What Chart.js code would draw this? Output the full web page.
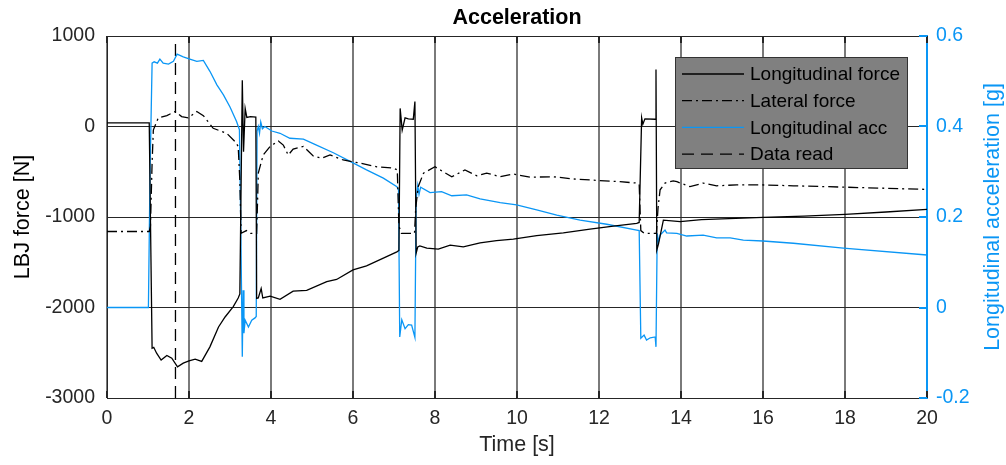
<!DOCTYPE html>
<html>
<head>
<meta charset="utf-8">
<title>Acceleration</title>
<script src="https://cdn.jsdelivr.net/npm/chart.js@4.4.1/dist/chart.umd.min.js"></script>
<style>
  html, body { margin: 0; padding: 0; background: #fff; }
  #wrap { width: 1006px; height: 465px; }
</style>
</head>
<body>
<div id="wrap"><canvas id="myChart" width="1006" height="465"></canvas></div>
<script>
// values

// tick labels
const timeTicks = [0, 2, 4, 6, 8, 10, 12, 14, 16, 18, 20];
const forceTicks = [-3000, -2000, -1000, 0, 1000];
const accTicks = [-0.2, 0, 0.2, 0.4, 0.6];

// Longitudinal force [N]
const longForceTime = [0, 0.98, 1.03, 1.10, 1.14, 1.21, 1.32, 1.46, 1.58, 1.72, 1.86, 2.00, 2.15, 2.31, 2.51, 2.72, 2.88, 3.08, 3.20, 3.24,
  3.30, 3.33, 3.37, 3.41, 3.50, 3.63, 3.65, 3.69, 3.76, 3.80, 3.98, 4.22, 4.54, 4.87, 5.36, 5.60, 6.00, 6.33, 6.74, 7.07, 7.12,
  7.15, 7.20, 7.27, 7.35, 7.47, 7.51, 7.54, 7.58, 7.63, 7.80, 8.08, 8.37, 8.69, 9.10, 9.50, 9.91, 10.48, 11.13, 11.78, 12.35, 12.92, 12.98,
  13.04, 13.07, 13.12, 13.37, 13.39, 13.41, 13.45, 13.57, 13.98, 14.5, 15.0, 16.0, 17.0, 18.0, 19.0, 20.0];
const longForce = [40, 40, 40, -2450, -2440, -2505, -2580, -2530, -2560, -2655, -2615, -2590, -2570, -2595, -2435, -2215, -2105, -1990, -1895, -1850,
  510, -280, 200, 100, 110, 105, -1900, -1895, -1790, -1895, -1875, -1910, -1820, -1810, -1715, -1690, -1585, -1540, -1455, -1385, -1370,
  200, -40, 95, 85, 80, 275, -1400, -1330, -1320, -1345, -1355, -1310, -1330, -1285, -1260, -1245, -1205, -1175, -1135, -1100, -1070, -1060,
  95, 25, 85, 80, 630, -1365, -1300, -1035, -1050, -1030, -1020, -1005, -990, -970, -945, -915];

// Lateral force [N]
const latForceTime = [0, 1.00, 1.03, 1.06, 1.10, 1.13, 1.25, 1.46, 1.66, 1.82, 1.98, 2.19, 2.35, 2.59, 2.92, 3.12, 3.20, 3.24, 3.27, 3.40, 3.50, 3.65,
  3.68, 3.69, 3.81, 3.98, 4.18, 4.30, 4.42, 4.54, 4.79, 5.03, 5.24, 5.44, 5.76, 6.17, 6.58, 6.98, 7.08, 7.12, 7.18, 7.50,
  7.53, 7.59, 7.72, 8.00, 8.20, 8.41, 8.73, 9.02, 9.26, 9.59, 9.91, 10.32, 10.89, 11.37, 11.94, 12.51, 12.92, 12.98, 13.02, 13.10, 13.40,
  13.44, 13.49, 13.61, 13.81, 13.90, 14.22, 14.54, 14.87, 15.36, 15.93, 16.74, 17.96, 20.0];
const latForce = [-1160, -1160, -1160, -1100, -400, -40, 95, 120, 165, 110, 95, 165, 120, -20, -75, -165, -220, -600, -1180, -1150, -1180, -1180,
  -700, -515, -315, -220, -160, -205, -315, -250, -220, -325, -350, -315, -370, -405, -445, -460, -480, -1100, -1180, -1180,
  -900, -665, -515, -445, -500, -555, -480, -545, -515, -555, -525, -560, -555, -580, -595, -610, -625, -640, -1150, -1180, -1180,
  -900, -700, -625, -600, -610, -665, -625, -655, -645, -645, -655, -670, -695];

// Longitudinal acceleration [g]
const accTime = [0, 1.01, 1.05, 1.10, 1.15, 1.23, 1.29, 1.37, 1.50, 1.62, 1.71, 1.86, 2.02, 2.19, 2.35, 2.51, 2.68, 2.84, 3.00, 3.16, 3.23, 3.26,
  3.30, 3.32, 3.34, 3.37, 3.45, 3.53, 3.61, 3.64, 3.66, 3.69, 3.72, 3.75, 3.79, 3.85, 4.02, 4.22, 4.46, 4.79, 5.11, 5.52, 5.93, 6.33, 6.74, 7.07, 7.11,
  7.14, 7.19, 7.27, 7.35, 7.43, 7.51, 7.54, 7.58, 7.61, 7.65, 7.88, 8.16, 8.41, 8.77, 9.10, 9.59, 9.99, 10.48, 10.97, 11.54, 12.19, 12.92, 12.98,
  13.02, 13.10, 13.16, 13.25, 13.37, 13.39, 13.42, 13.45, 13.49, 13.61, 13.65, 13.90, 14.14, 14.54, 14.87, 15.20, 15.52, 16.00, 16.74, 17.96, 20.0];
const acc = [0, 0, 0.30, 0.540, 0.543, 0.540, 0.549, 0.540, 0.538, 0.544, 0.560, 0.554, 0.549, 0.544, 0.546, 0.522, 0.492, 0.470, 0.443, 0.411, 0.393, 0.2,
  -0.109, 0.038, -0.057, -0.028, -0.043, -0.028, -0.023, -0.02, 0.39, 0.40, 0.385, 0.41, 0.395, 0.40, 0.39, 0.385, 0.374, 0.372, 0.359, 0.342, 0.323, 0.304, 0.286, 0.267, 0.26,
  -0.065, -0.027, -0.047, -0.038, -0.039, -0.066, 0.24, 0.27, 0.25, 0.266, 0.254, 0.256, 0.247, 0.249, 0.240, 0.232, 0.227, 0.216, 0.204, 0.193, 0.184, 0.171, 0.170,
  -0.068, -0.061, -0.072, -0.067, -0.065, -0.087, 0.164, 0.145, 0.160, 0.171, 0.165, 0.164, 0.158, 0.160, 0.154, 0.154, 0.149, 0.147, 0.142, 0.131, 0.116];

// Data read marker (vertical line)
const dataReadTime = [1.67, 1.67];
const dataRead = [-3000, 1000];

const BLUE = '#0a96f5';
const FONT = "'Liberation Sans', Arial, sans-serif";

function toPoints(xs, ys) {
  return xs.map((x, i) => ({ x: x, y: ys[i] }));
}

// draws the title, top frame, inward ticks, right y label and the grey legend box
const matlabLook = {
  id: 'matlabLook',
  afterDraw(chart) {
    const { ctx, chartArea: a, scales } = chart;
    ctx.save();

    // top frame line
    ctx.strokeStyle = '#262626';
    ctx.lineWidth = 1;
    ctx.beginPath();
    ctx.moveTo(a.left, a.top + 0.5);
    ctx.lineTo(a.right, a.top + 0.5);
    ctx.stroke();

    // inward x ticks, top and bottom
    ctx.lineWidth = 2;
    scales.x.ticks.forEach(t => {
      const px = Math.round(scales.x.getPixelForValue(t.value));
      ctx.beginPath();
      ctx.moveTo(px, a.top);
      ctx.lineTo(px, a.top + 7);
      ctx.moveTo(px, a.bottom);
      ctx.lineTo(px, a.bottom - 7);
      ctx.stroke();
    });

    // inward right ticks, blue
    ctx.strokeStyle = BLUE;
    ctx.lineWidth = 2;
    scales.y1.ticks.forEach(t => {
      const py = Math.round(scales.y1.getPixelForValue(t.value));
      ctx.beginPath();
      ctx.moveTo(a.right, py);
      ctx.lineTo(a.right - 8, py);
      ctx.stroke();
    });

    // title
    ctx.fillStyle = '#000';
    ctx.font = 'bold 21.5px ' + FONT;
    ctx.textAlign = 'center';
    ctx.textBaseline = 'middle';
    ctx.fillText('Acceleration', (a.left + a.right) / 2, 18);

    // right axis label, reading bottom to top
    ctx.save();
    ctx.translate(993, (a.top + a.bottom) / 2);
    ctx.rotate(-Math.PI / 2);
    ctx.fillStyle = BLUE;
    ctx.font = '21.5px ' + FONT;
    ctx.fillText('Longitudinal acceleration [g]', 0, 0);
    ctx.restore();

    // legend box
    const bx = a.right - 252, by = a.top + 21, bw = 232, bh = 111;
    ctx.fillStyle = '#808080';
    ctx.fillRect(bx, by, bw, bh);
    ctx.strokeStyle = '#333';
    ctx.lineWidth = 1;
    ctx.strokeRect(bx + 0.5, by + 0.5, bw, bh);
    ctx.font = '19px ' + FONT;
    ctx.textAlign = 'left';
    chart.data.datasets.forEach((ds, i) => {
      const y = by + 17 + i * 26.7;
      ctx.strokeStyle = ds.borderColor;
      ctx.lineWidth = ds.borderWidth;
      ctx.setLineDash(ds.borderDash || []);
      ctx.beginPath();
      ctx.moveTo(bx + 7, y);
      ctx.lineTo(bx + 69, y);
      ctx.stroke();
      ctx.setLineDash([]);
      ctx.fillStyle = '#000';
      ctx.fillText(ds.label, bx + 75, y + 1);
    });

    ctx.restore();
  }
};

Chart.defaults.font.family = FONT;

const ctx = document.getElementById('myChart').getContext('2d');
const myChart = new Chart(ctx, {
  type: 'line',
  data: {
    datasets: [
      {
        label: 'Longitudinal force',
        data: toPoints(longForceTime, longForce),
        yAxisID: 'y',
        borderColor: '#000',
        borderWidth: 1.3
      },
      {
        label: 'Lateral force',
        data: toPoints(latForceTime, latForce),
        yAxisID: 'y',
        borderColor: '#000',
        borderWidth: 1.3,
        borderDash: [10, 4, 2, 4]
      },
      {
        label: 'Longitudinal acc',
        data: toPoints(accTime, acc),
        yAxisID: 'y1',
        borderColor: BLUE,
        borderWidth: 1.3
      },
      {
        label: 'Data read',
        data: toPoints(dataReadTime, dataRead),
        yAxisID: 'y',
        borderColor: '#000',
        borderWidth: 1.3,
        borderDash: [12, 7]
      }
    ]
  },
  options: {
    responsive: false,
    animation: false,
    layout: { padding: { top: 36, left: 0, right: 0, bottom: 0 } },
    elements: {
      point: { radius: 0 },
      line: { tension: 0, fill: false }
    },
    plugins: {
      legend: { display: false },
      tooltip: { enabled: false },
      title: { display: false }
    },
    scales: {
      x: {
        type: 'linear',
        min: timeTicks[0],
        max: timeTicks[timeTicks.length - 1],
        afterBuildTicks: s => { s.ticks = timeTicks.map(v => ({ value: v })); },
        afterFit: s => { s.height = 67; },
        grid: { color: '#7a7a7a', lineWidth: 2, drawTicks: false },
        border: { color: '#262626', width: 1 },
        ticks: {
          color: '#262626',
          font: { size: 19.5 },
          padding: 9,
          maxRotation: 0,
          callback: v => String(v)
        },
        title: {
          display: true,
          text: 'Time [s]',
          color: '#262626',
          font: { size: 21.5 },
          padding: { top: 0, bottom: 7 }
        }
      },
      y: {
        type: 'linear',
        position: 'left',
        min: forceTicks[0],
        max: forceTicks[forceTicks.length - 1],
        afterBuildTicks: s => { s.ticks = forceTicks.map(v => ({ value: v })); },
        afterFit: s => { s.width = 107; },
        grid: { color: '#262626', lineWidth: 1, drawTicks: false },
        border: { color: '#262626', width: 1 },
        ticks: {
          color: '#262626',
          font: { size: 19.5 },
          padding: 12,
          callback: v => String(v)
        },
        title: {
          display: true,
          text: 'LBJ force [N]',
          color: '#000',
          font: { size: 21.5 },
          padding: { top: 10, bottom: 0 }
        }
      },
      y1: {
        type: 'linear',
        position: 'right',
        min: accTicks[0],
        max: accTicks[accTicks.length - 1],
        afterBuildTicks: s => { s.ticks = accTicks.map(v => ({ value: v })); },
        afterFit: s => { s.width = 79; },
        grid: { display: false, drawTicks: false },
        border: { color: BLUE, width: 2 },
        ticks: {
          color: BLUE,
          font: { size: 19.5 },
          padding: 9,
          callback: v => String(Math.round(v * 10) / 10)
        }
      }
    }
  },
  plugins: [matlabLook]
});
</script>
</body>
</html>
